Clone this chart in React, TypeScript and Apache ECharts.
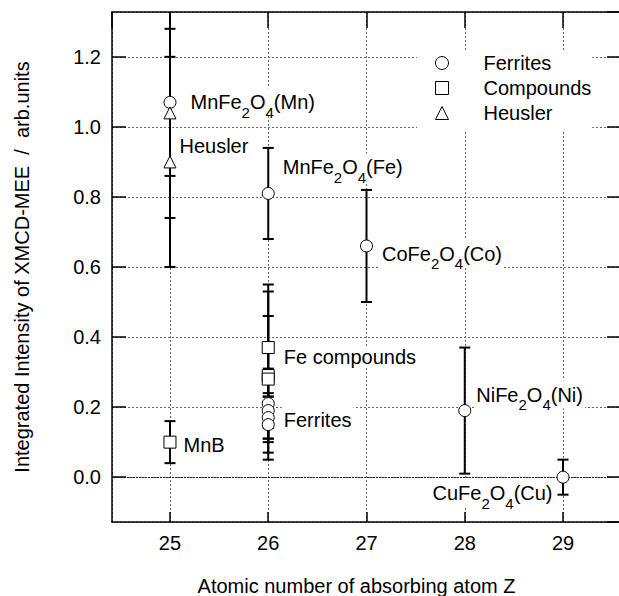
import React, { useEffect, useRef } from 'react';
import * as echarts from 'echarts';

const FONT = '"Liberation Sans", Arial, Helvetica, sans-serif';

// ---- data ----
const ferritesZ = [25, 26, 27, 28, 29, 26, 26, 26, 26];
const ferritesVal = [1.07, 0.81, 0.66, 0.19, 0.0, 0.21, 0.19, 0.17, 0.15];
const ferritesErr = [0.21, 0.13, 0.16, 0.18, 0.05, 0.1, 0.05, 0.06, 0.08];
const ferritesLabels = [
  'MnFe{s|2}O{s|4}(Mn)',
  'MnFe{s|2}O{s|4}(Fe)',
  'CoFe{s|2}O{s|4}(Co)',
  'NiFe{s|2}O{s|4}(Ni)',
  'CuFe{s|2}O{s|4}(Cu)',
  '',
  'Ferrites',
  '',
  '',
];

const compoundsZ = [25, 26, 26, 26];
const compoundsVal = [0.1, 0.37, 0.29, 0.28];
const compoundsErr = [0.06, 0.18, 0.24, 0.18];
const compoundsLabels = ['MnB', 'Fe compounds', '', ''];

const heuslerZ = [25, 25];
const heuslerVal = [1.04, 0.9];
const heuslerErr = [0.3, 0.3];
const heuslerLabels = ['', 'Heusler'];

const legendNames = ['Ferrites', 'Compounds', 'Heusler'];
const xTitle = 'Atomic number of absorbing atom Z';
const yTitle = 'Integrated Intensity of XMCD-MEE  /  arb.units';

// ---- label placement (style only) ----
type Place = { pos: string; dist: number; off: [number, number]; pad: number[] } | null;
const ferritesPlace: Place[] = [
  { pos: 'right', dist: 12, off: [0, 0], pad: [3, 2, 3, 2] },
  { pos: 'right', dist: 6, off: [0, -26], pad: [3, 2, 3, 2] },
  { pos: 'right', dist: 7, off: [0, 8], pad: [3, 2, 3, 2] },
  { pos: 'right', dist: 3, off: [0, -16], pad: [3, 2, 3, 2] },
  { pos: 'left', dist: 2, off: [0, 16], pad: [3, 2, 3, 2] },
  null,
  { pos: 'right', dist: 7, off: [0, 9], pad: [3, 2, 3, 2] },
  null,
  null,
];
const compoundsPlace: Place[] = [
  { pos: 'right', dist: 5, off: [0, 3], pad: [0, 2, 0, 2] },
  { pos: 'right', dist: 7, off: [0, 9.5], pad: [0, 2, 0, 2] },
  null,
  null,
];
const heuslerPlace: Place[] = [null, { pos: 'right', dist: 1, off: [0, -16], pad: [0, 2, 0, 2] }];

const X_MIN = 24.41;
const X_MAX = 29.59;
const Y_MIN = -0.128;
const Y_MAX = 1.328;

function scatterSeries(name: string, symbol: string, zs: number[], vals: number[], labels: string[], places: Place[], extra: any = {}) {
  return {
    type: 'scatter',
    name,
    symbol,
    symbolSize: 12,
    z: 5,
    silent: true,
    itemStyle: { color: '#fff', borderColor: '#000', borderWidth: 1, opacity: 1 },
    emphasis: { disabled: true },
    data: zs.map((z, i) => {
      const item: any = { value: [z, vals[i]] };
      const p = places[i];
      if (labels[i] && p) {
        item.label = {
          show: true,
          formatter: labels[i],
          position: p.pos,
          distance: p.dist,
          offset: p.off,
          padding: p.pad,
          backgroundColor: '#fff',
          color: '#000',
          fontSize: 20,
          fontFamily: FONT,
          lineHeight: 22,
          rich: {
            s: {
              fontSize: 15,
              fontFamily: FONT,
              color: '#000',
              verticalAlign: 'bottom',
              lineHeight: 2,
              height: 2,
            },
          },
        };
      }
      return item;
    }),
    ...extra,
  };
}

function errorSeries(name: string, zs: number[], vals: number[], errs: number[]) {
  return {
    type: 'custom',
    name,
    z: 3,
    silent: true,
    encode: { x: 0, y: [1, 2] },
    data: zs.map((z, i) => [z, vals[i] - errs[i], vals[i] + errs[i]]),
    renderItem: (params: any, api: any) => {
      const x = api.value(0);
      const lo = api.coord([x, api.value(1)]);
      const hi = api.coord([x, api.value(2)]);
      const cs = params.coordSys;
      const top = Math.max(hi[1], cs.y);
      const cap = 5.5;
      const style = { stroke: '#000', lineWidth: 2, fill: 'none' };
      const children: any[] = [
        { type: 'line', shape: { x1: lo[0], y1: lo[1], x2: lo[0], y2: top }, style },
        { type: 'line', shape: { x1: lo[0] - cap, y1: lo[1], x2: lo[0] + cap, y2: lo[1] }, style },
      ];
      if (hi[1] >= cs.y) {
        children.push({ type: 'line', shape: { x1: hi[0] - cap, y1: hi[1], x2: hi[0] + cap, y2: hi[1] }, style });
      }
      return { type: 'group', children };
    },
  };
}

export default function App() {
  const ref = useRef<HTMLDivElement>(null);
  useEffect(() => {
    if (!ref.current) return;
    const chart = echarts.init(ref.current, null, { renderer: 'svg' });
    const axisLine = { show: true, onZero: false, lineStyle: { color: '#000', width: 1.5 } };
    const splitLine = { show: true, lineStyle: { color: '#666', width: 1, type: [2, 2] } };
    const labelStyle = { fontSize: 20, fontFamily: FONT, color: '#000' };
    chart.setOption({
      animation: false,
      backgroundColor: '#fff',
      textStyle: { fontFamily: FONT },
      grid: { left: 112, top: 12, right: -2, bottom: 74, containLabel: false, outerBoundsMode: 'none' },
      legend: {
        data: [
          { name: legendNames[0], icon: 'circle' },
          { name: legendNames[1], icon: 'rect' },
          { name: legendNames[2], icon: 'triangle' },
        ],
        orient: 'vertical',
        left: 417,
        top: 50,
        padding: [3, 1, 7, 18],
        itemGap: 5,
        itemWidth: 13,
        itemHeight: 13,
        backgroundColor: '#fff',
        borderWidth: 0,
        selectedMode: false,
        itemStyle: { color: '#fff', borderColor: '#000', borderWidth: 1 },
        textStyle: { fontSize: 20, fontFamily: FONT, color: '#000', lineHeight: 20, padding: [0, 0, 0, 30] },
      },
      xAxis: [
        {
          type: 'value',
          min: X_MIN,
          max: X_MAX,
          splitNumber: 5,
          position: 'bottom',
          axisLine,
          axisTick: { show: true, inside: true, length: 10, lineStyle: { color: '#000', width: 1.5 } },
          axisLabel: { ...labelStyle, margin: 11, showMinLabel: false, showMaxLabel: false, formatter: (v: number) => String(Math.round(v)) },
          splitLine,
          name: xTitle,
          nameLocation: 'middle',
          nameGap: 54,
          nameMoveOverlap: false,
          nameTextStyle: { ...labelStyle, padding: [0, 20, 0, 0] },
        },
        {
          type: 'value',
          min: X_MIN,
          max: X_MAX,
          splitNumber: 5,
          position: 'top',
          axisLine,
          axisTick: { show: true, inside: true, length: 16, lineStyle: { color: '#000', width: 1.5 } },
          axisLabel: { show: false },
          splitLine: { show: false },
        },
      ],
      yAxis: [
        {
          type: 'value',
          min: Y_MIN,
          max: Y_MAX,
          splitNumber: 7,
          position: 'left',
          axisLine,
          axisTick: { show: true, inside: true, length: 14, lineStyle: { color: '#000', width: 1.5 } },
          axisLabel: { ...labelStyle, margin: 11, showMinLabel: false, showMaxLabel: false, formatter: (v: number) => v.toFixed(1) },
          splitLine,
          name: yTitle,
          nameLocation: 'middle',
          nameRotate: 90,
          nameGap: 80,
          nameMoveOverlap: false,
          nameTextStyle: labelStyle,
        },
        {
          type: 'value',
          min: Y_MIN,
          max: Y_MAX,
          splitNumber: 7,
          position: 'right',
          axisLine,
          axisTick: { show: true, inside: true, length: 14, lineStyle: { color: '#000', width: 1.5 } },
          axisLabel: { show: false },
          splitLine: { show: false },
        },
      ],
      series: [
        errorSeries('Ferrites error', ferritesZ, ferritesVal, ferritesErr),
        errorSeries('Compounds error', compoundsZ, compoundsVal, compoundsErr),
        errorSeries('Heusler error', heuslerZ, heuslerVal, heuslerErr),
        scatterSeries(legendNames[0], 'circle', ferritesZ, ferritesVal, ferritesLabels, ferritesPlace, {
          markLine: {
            silent: true,
            symbol: ['none', 'none'],
            label: { show: false },
            lineStyle: { color: '#222', width: 1, type: [2, 1] },
            emphasis: { disabled: true },
            data: [{ yAxis: 0 }],
          },
        }),
        scatterSeries(legendNames[1], 'rect', compoundsZ, compoundsVal, compoundsLabels, compoundsPlace),
        scatterSeries(legendNames[2], 'triangle', heuslerZ, heuslerVal, heuslerLabels, heuslerPlace),
      ],
    });
    return () => chart.dispose();
  }, []);
  return <div ref={ref} style={{ position: 'absolute', left: 0, top: 0, width: 619, height: 596, background: '#fff' }} />;
}
